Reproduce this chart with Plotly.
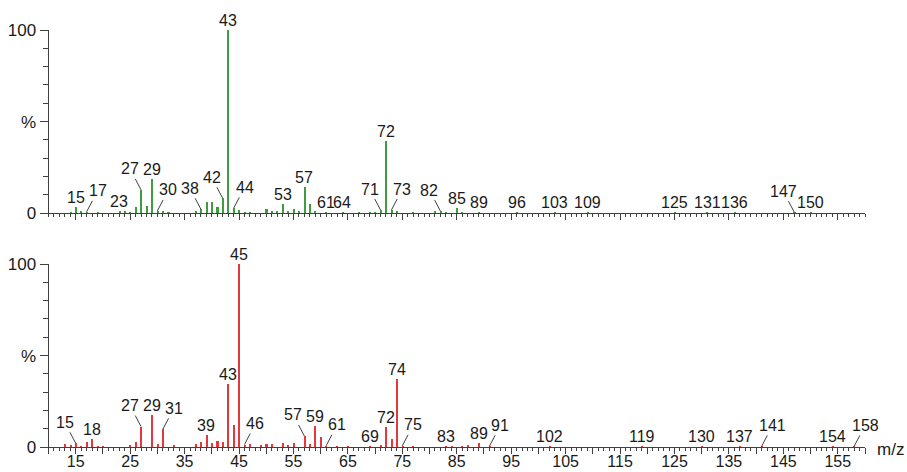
import plotly.graph_objects as go

# ---------------- data ----------------
mz_top = [14, 15, 16, 17, 19, 23, 24, 25, 26, 27, 28, 29, 30, 31, 32, 37, 38, 39, 40, 41, 42, 43, 44, 45,
          46, 47, 50, 51, 52, 53, 54, 55, 56, 57, 58, 59, 61, 64, 67, 69, 70, 71, 72, 73, 74, 77, 81, 82,
          83, 85, 86, 89, 96, 103, 109, 125, 131, 136, 147, 150]
int_top = [0.9, 3.6, 1.3, 0.8, 0.5, 1.3, 1.0, 0.8, 3.6, 12.8, 4.0, 18.8, 1.3, 1.3, 0.5, 1.5, 2.2, 6.4, 6.0, 3.6, 8.2, 100, 2.7, 1.8,
           0.8, 0.5, 2.2, 1.5, 1.5, 5.1, 1.3, 2.4, 1.0, 14.2, 5.1, 1.0, 0.8, 0.6, 0.5, 0.6, 0.8, 1.8, 39.7, 1.8, 1.0, 0.5, 1.0, 1.2,
           0.6, 2.7, 0.6, 0.6, 0.6, 0.5, 0.5, 0.5, 0.5, 0.5, 0.6, 0.5]

mz_bot = [13, 14, 15, 16, 17, 18, 19, 20, 25, 26, 27, 29, 30, 31, 33, 37, 38, 39, 40, 41, 42, 43, 44, 45,
          46, 47, 49, 50, 51, 53, 54, 55, 57, 58, 59, 60, 61, 63, 65, 69, 71, 72, 73, 74, 75, 77, 83, 84,
          86, 87, 89, 91, 102, 119, 130, 137, 141, 154, 158]
int_bot = [1.6, 1.1, 2.2, 0.8, 3.1, 4.7, 0.9, 0.7, 1.3, 2.9, 11.3, 17.5, 1.8, 9.8, 1.3, 1.8, 2.7, 6.6, 2.2, 3.3, 3.1, 34.8, 12.0, 100,
           1.5, 1.8, 1.1, 2.0, 2.0, 2.4, 1.1, 2.5, 6.2, 1.6, 11.8, 5.5, 0.8, 0.5, 0.6, 0.6, 1.0, 11.3, 4.7, 37.3, 0.8, 0.5, 0.8, 0.6,
           0.6, 1.0, 2.2, 0.6, 0.5, 0.5, 0.5, 0.6, 0.5, 0.5, 0.5]

labels_top = [15, 17, 23, 27, 29, 30, 38, 42, 43, 44, 53, 57, 61, 64, 71, 72, 73, 82, 85, 89, 96, 103,
              109, 125, 131, 136, 147, 150]
leader_top = {17: 'r', 27: 'l', 30: 'r', 38: 'l', 42: 'l', 44: 'r', 71: 'l', 73: 'r', 82: 'l', 147: 'l'}

labels_bot = [15, 18, 27, 29, 31, 39, 43, 45, 46, 57, 59, 61, 69, 72, 74, 75, 83, 89, 91, 102, 119, 130,
              137, 141, 154, 158]
leader_bot = {15: 'l', 27: 'l', 31: 'r', 46: 'r', 57: 'l', 61: 'r', 75: 'r', 91: 'r', 141: 'r', 158: 'r'}

x_tickvals = list(range(10, 161, 5))
x_ticktext = [str(v) if v % 10 == 5 else "" for v in x_tickvals]
y_tickvals = [0, 50, 100]
y_ticktext = ["0", "%", "100"]

GREEN = "#3f9c3f"
RED = "#e5383b"
AX = "#404040"
TXT = "#1a1a1a"
FONT = "Liberation Sans, Arial, sans-serif"

W, H = 907, 472
x0px, x1px = 48.5, 865.0
top_y0, top_y100 = 213.3, 30.0
bot_y0, bot_y100 = 447.3, 264.0

fig = go.Figure()
fig.add_trace(go.Bar(x=mz_top, y=int_top, width=0.28, marker=dict(color=GREEN, line=dict(width=0)),
                     xaxis="x", yaxis="y", showlegend=False))
fig.add_trace(go.Bar(x=mz_bot, y=int_bot, width=0.28, marker=dict(color=RED, line=dict(width=0)),
                     xaxis="x2", yaxis="y2", showlegend=False))

xdom = [x0px / W, x1px / W]
common_x = dict(range=[10, 160], domain=xdom, showline=True, linecolor=AX, linewidth=1,
                automargin=False,
                ticks="outside", ticklen=6, tickwidth=1, tickcolor=AX,
                tickmode="array", tickvals=x_tickvals, ticktext=x_ticktext,
                minor=dict(tickmode="linear", tick0=10, dtick=1, ticks="outside", ticklen=3,
                           tickwidth=1, tickcolor=AX),
                showgrid=False, zeroline=False, fixedrange=True,
                ticklabelstandoff=-7,
                tickfont=dict(family=FONT, size=16, color=TXT))
common_y = dict(range=[0, 100], showline=True, linecolor=AX, linewidth=1,
                automargin=False,
                ticks="outside", ticklen=8, tickwidth=1, tickcolor=AX,
                tickmode="array", tickvals=y_tickvals, ticktext=y_ticktext,
                minor=dict(tickmode="linear", tick0=0, dtick=10, ticks="outside", ticklen=5,
                           tickwidth=1, tickcolor=AX),
                showgrid=False, zeroline=False, fixedrange=True,
                tickfont=dict(family=FONT, size=17, color=TXT))

fig.update_layout(
    width=W, height=H, autosize=False,
    margin=dict(l=0, r=0, t=0, b=0, autoexpand=False),
    paper_bgcolor="white", plot_bgcolor="rgba(0,0,0,0)",
    bargap=0,
    xaxis=dict(common_x, anchor="y", showticklabels=False),
    yaxis=dict(common_y, anchor="x", domain=[(H - top_y0) / H, (H - top_y100) / H]),
    xaxis2=dict(common_x, anchor="y2", showticklabels=True),
    yaxis2=dict(common_y, anchor="x2", domain=[(H - bot_y0) / H, (H - bot_y100) / H]),
)

annotations = []


def add_labels(labels, leaders, mzs, ints, xref, yref):
    lookup = dict(zip(mzs, ints))
    for m in labels:
        v = lookup.get(m, 0)
        if m in leaders:
            ax = -11 if leaders[m] == 'l' else 11
            annotations.append(dict(x=m, y=v, xref=xref, yref=yref, text=str(m), showarrow=True,
                                    arrowhead=0, arrowwidth=1, arrowcolor=AX, ax=ax, ay=-21,
                                    standoff=0, font=dict(family=FONT, size=16, color=TXT)))
        else:
            annotations.append(dict(x=m, y=v, xref=xref, yref=yref, text=str(m), showarrow=False,
                                    xanchor="center", yanchor="bottom", yshift=-1,
                                    font=dict(family=FONT, size=16, color=TXT)))


add_labels(labels_top, leader_top, mz_top, int_top, "x", "y")
add_labels(labels_bot, leader_bot, mz_bot, int_bot, "x2", "y2")

annotations.append(dict(x=160, y=0, xref="x2", yref="y2", text="m/z", showarrow=False,
                        xanchor="left", yanchor="middle", xshift=10, yshift=-2,
                        font=dict(family=FONT, size=17, color=TXT)))

fig.update_layout(annotations=annotations)

fig.write_html("out.html")
